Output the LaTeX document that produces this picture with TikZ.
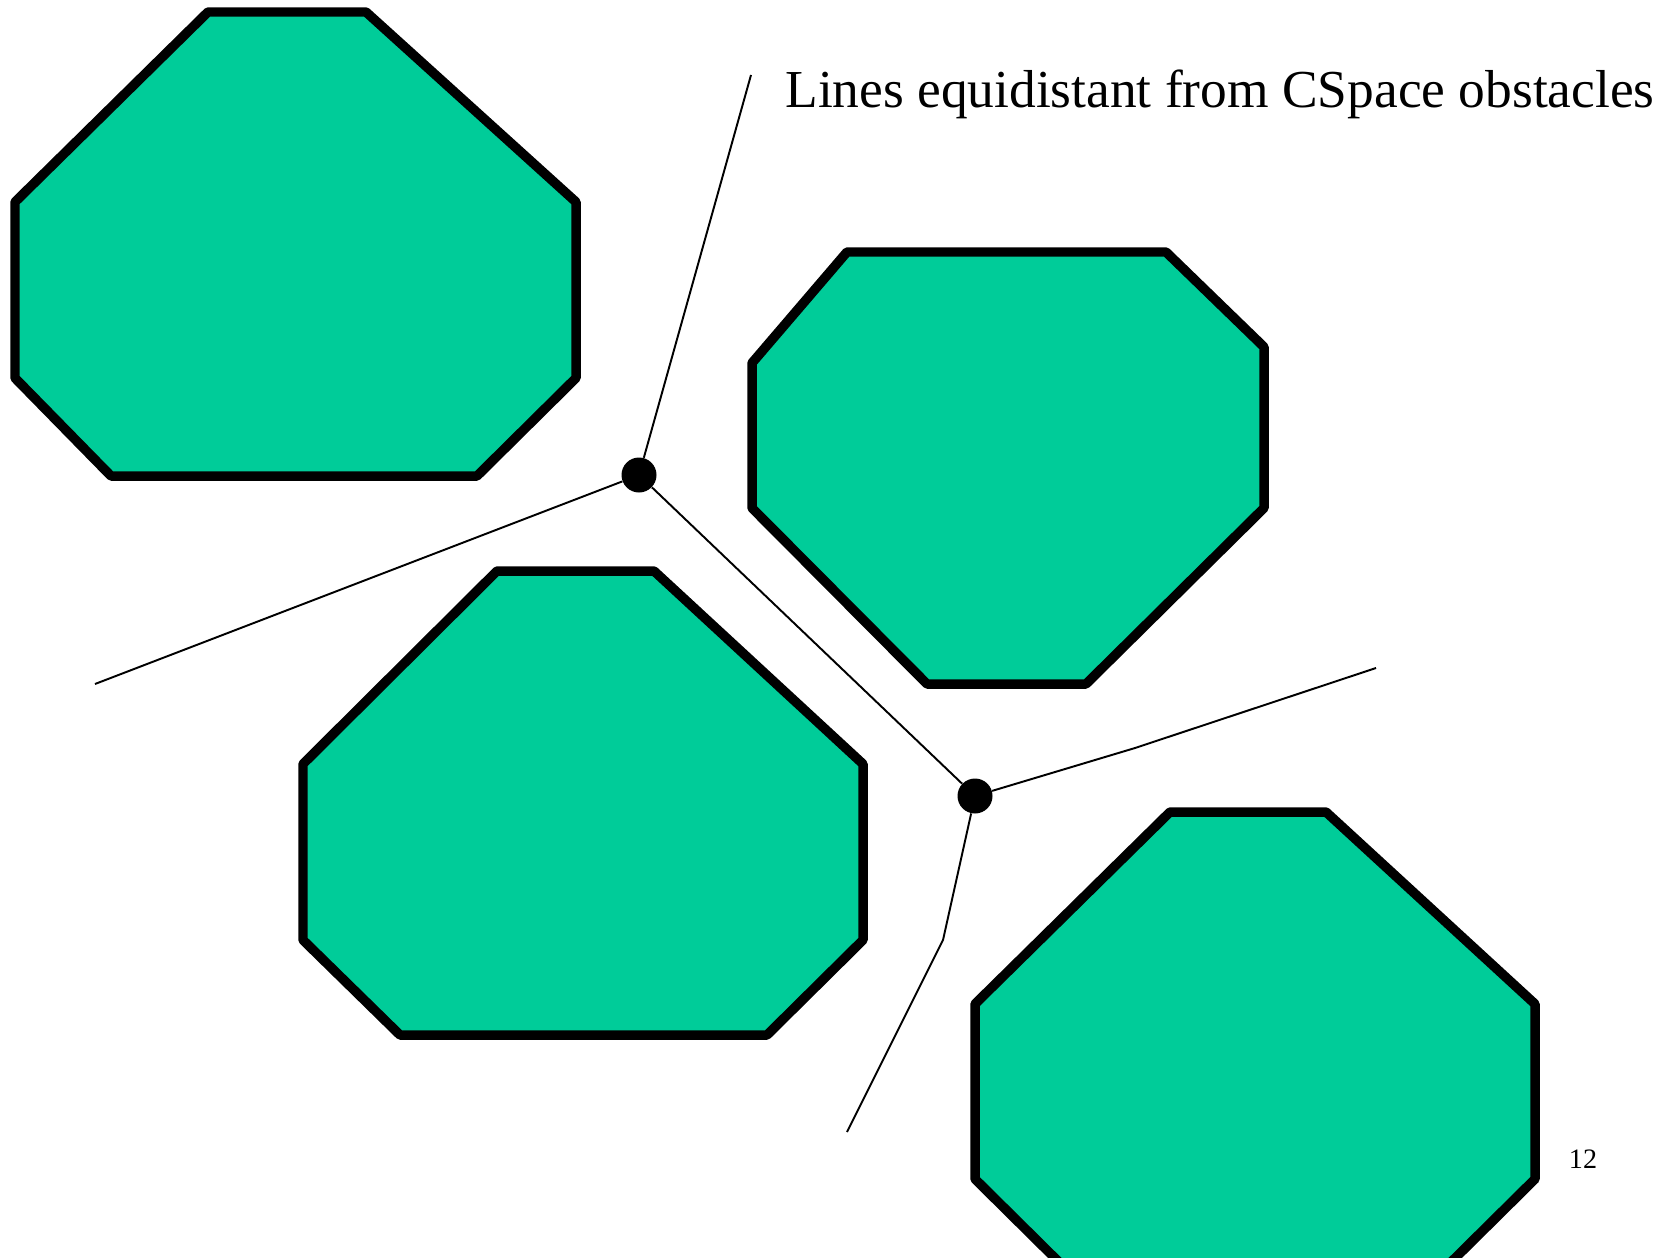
\documentclass[tikz,border=0pt]{standalone}
\usepackage{fontspec}
\setmainfont{Liberation Serif}
\usetikzlibrary{positioning}
\definecolor{obstgreen}{RGB}{0,204,153}

\begin{document}
\begin{tikzpicture}[
    x=0.02cm, y=-0.02cm,
    obstacle/.style={draw, fill=obstgreen, line width=5.4pt, line join=round},
    vline/.style={draw, line width=1.1pt},
    vertex/.style={circle, fill=black, inner sep=0pt, minimum size=0.7cm}]
    \useasboundingbox (0,0) rectangle (1675,1257);
    \clip (0,0) rectangle (1675,1257);
    % CSpace obstacles
    \draw[obstacle] (208,12) -- (366,12) -- (576,202) -- (576,378) -- (477,476) -- (111,476) -- (15,378) -- (15,202) -- cycle;
    \draw[obstacle] (847,252) -- (1166,252) -- (1264,347) -- (1264,508) -- (1086,684) -- (927,684) -- (752,508) -- (752,363) -- cycle;
    \draw[obstacle] (497,571) -- (654,571) -- (863,764) -- (863,940) -- (767,1035) -- (400,1035) -- (303,940) -- (303,764) -- cycle;
    \draw[obstacle] (1170,812) -- (1326,812) -- (1535,1004) -- (1535,1179) -- (1439,1274) -- (1071,1274) -- (975,1179) -- (975,1004) -- cycle;
    % equidistant lines
    \node[vertex] (v1) at (639,475) {};
    \node[vertex] (v2) at (975,796) {};
    \coordinate (top) at (751,75);
    \coordinate (left) at (95,684);
    \coordinate (bend1) at (1135,748);
    \coordinate (right) at (1376,668);
    \coordinate (bend2) at (943,940);
    \coordinate (bottom) at (847,1132);
    \draw[vline] (v1) -- (top);
    \draw[vline] (v1) -- (left);
    \draw[vline] (v1) -- (v2);
    \draw[vline] (v2) -- (bend1) -- (right);
    \draw[vline] (v2) -- (bend2) -- (bottom);
    \node[anchor=base west, font=\fontsize{30.4}{36}\selectfont, inner sep=0pt] (title) at (785,108) {Lines equidistant from CSpace obstacles};
    \node[font=\fontsize{16}{19}\selectfont] (pagenum) at (1583,1159) {12};
\end{tikzpicture}
\end{document}
